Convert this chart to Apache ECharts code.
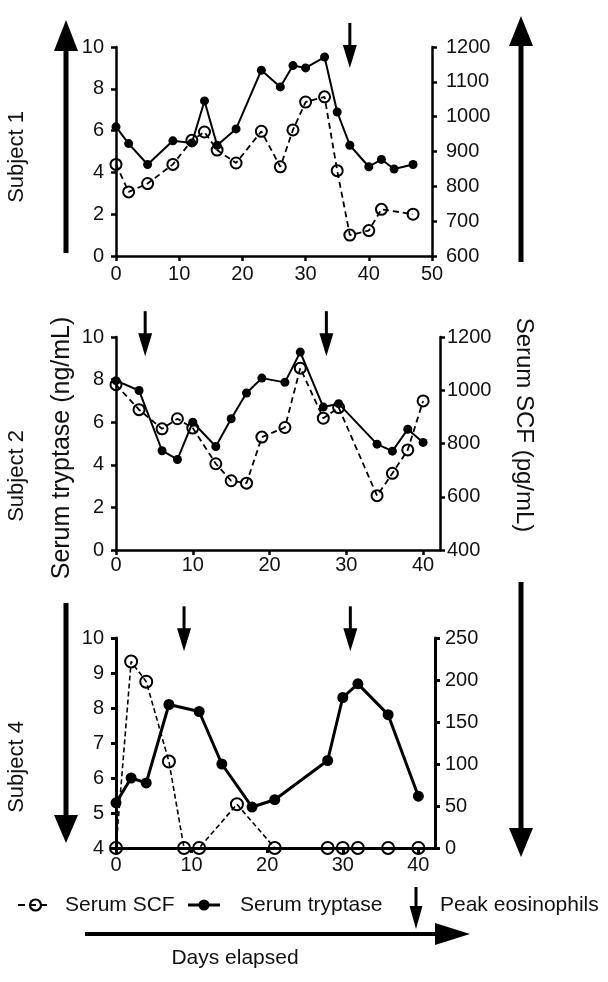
<!DOCTYPE html>
<html>
<head>
<meta charset="utf-8">
<script src="https://cdn.jsdelivr.net/npm/echarts@6/dist/echarts.min.js"></script>
<style>
html,body{margin:0;padding:0;background:#fff;}
#chart{width:608px;height:982px;}
</style>
</head>
<body>
<div id="chart"></div>
<script>
// ---------- Data ----------
// Subject 1
const s1TryptaseDays = [0,2,5,9,12,14,16,19,23,26,28,30,33,35,37,40,42,44,47];
const s1Tryptase     = [6.18,5.38,4.38,5.51,5.41,7.42,5.30,6.08,8.89,8.09,9.11,9.00,9.52,6.89,5.30,4.27,4.62,4.16,4.38];
const s1ScfDays      = [0,2,5,9,12,14,16,19,23,26,28,30,33,35,37,40,42,47];
const s1Scf          = [863,784,808,863,932,956,904,867,958,856,962,1042,1057,845,660,673,734,720];
const s1PeakDays     = [37];
const s1PeakTip      = [9.0];
// Subject 2
const s2Days         = [0,3,6,8,10,13,15,17,19,22,24,27,29,34,36,38,40];
const s2Tryptase     = [7.95,7.49,4.66,4.25,6.00,4.86,6.16,7.37,8.07,7.87,9.29,6.71,6.87,4.97,4.64,5.67,5.05];
const s2Scf          = [1021,927,855,893,858,724,660,651,824,860,1083,895,935,604,688,776,960];
const s2PeakDays     = [3.8,27.4];
const s2PeakTip      = [9.1,9.1];
// Subject 4
const s4TryptaseDays = [0,2,4,7,11,14,18,21,28,30,32,36,40];
const s4Tryptase     = [5.29,6.00,5.86,8.10,7.90,6.40,5.17,5.38,6.50,8.30,8.69,7.81,5.48];
const s4ScfDays      = [0,2,4,7,9,11,16,21,28,30,32,36,40];
const s4Scf          = [0,222,198,103,0,0,52,0,0,0,0,0,0];
const s4PeakDays     = [9,31];
const s4PeakTip      = [9.62,9.62];
// Tick labels
const xTicks1 = [0,10,20,30,40,50];
const xTicks23 = [0,10,20,30,40];

// ---------- Helpers ----------
const FONT = '"Liberation Sans", Arial, Helvetica, sans-serif';
const zip = (a,b) => a.map((v,i) => [v,b[i]]);
const plain = v => String(v);

function xAx(gi, max, ticks, lw, margin){
  return {
    type:'value', gridIndex:gi, min:0, max:max, interval:10,
    axisLine:{show:true,onZero:false,lineStyle:{color:'#000',width:lw}},
    axisTick:{show:true,length:5,customValues:ticks,lineStyle:{color:'#000',width:lw}},
    axisLabel:{customValues:ticks,margin:margin,fontSize:20,fontFamily:FONT,color:'#111',formatter:plain},
    splitLine:{show:false}
  };
}
function yAx(gi, pos, min, max, interval, lw, margin){
  return {
    type:'value', gridIndex:gi, position:pos, min:min, max:max, interval:interval,
    axisLine:{show:true,onZero:false,lineStyle:{color:'#000',width:lw}},
    axisTick:{show:true,length:5,lineStyle:{color:'#000',width:lw}},
    axisLabel:{margin:margin,fontSize:20,fontFamily:FONT,color:'#111',formatter:plain},
    splitLine:{show:false}
  };
}
function tryptaseSeries(xi, yi, days, vals, lw, size){
  return {
    type:'line', xAxisIndex:xi, yAxisIndex:yi, data:zip(days,vals),
    symbol:'circle', symbolSize:size, showSymbol:true, clip:false, z:4,
    lineStyle:{color:'#000',width:lw},
    itemStyle:{color:'#000',borderWidth:0},
    animation:false, silent:true
  };
}
function scfSeries(xi, yi, days, vals, lw, size, dash){
  return {
    type:'line', xAxisIndex:xi, yAxisIndex:yi, data:zip(days,vals),
    symbol:'circle', symbolSize:size, showSymbol:true, clip:false, z:3,
    lineStyle:{color:'#000',width:lw,type:dash},
    itemStyle:{color:'rgba(255,255,255,0)',borderColor:'#000',borderWidth:2},
    animation:false, silent:true
  };
}
function peakSeries(xi, yi, days, tips){
  return {
    type:'custom', xAxisIndex:xi, yAxisIndex:yi, data:zip(days,tips),
    clip:false, z:5, silent:true, animation:false,
    encode:{x:0,y:1},
    renderItem:function(params, api){
      const p = api.coord([api.value(0), api.value(1)]);
      const L = 45, H = 23, W = 7;
      return {type:'group', children:[
        {type:'line', shape:{x1:p[0],y1:p[1]-L,x2:p[0],y2:p[1]-H+2}, style:{stroke:'#000',lineWidth:3}},
        {type:'polygon', shape:{points:[[p[0]-W,p[1]-H],[p[0]+W,p[1]-H],[p[0],p[1]]]}, style:{fill:'#000'}}
      ]};
    }
  };
}

// ---------- Decorations ----------
function vText(x,y,text,size,rot){
  return {type:'text', x:x, y:y, rotation:rot, silent:true,
    style:{text:text, font:size+'px '+FONT, fill:'#111', align:'center', verticalAlign:'middle'}};
}
function hText(x,y,text,size,align){
  return {type:'text', x:x, y:y, silent:true,
    style:{text:text, font:size+'px '+FONT, fill:'#111', align:align||'left', verticalAlign:'middle'}};
}
function line(x1,y1,x2,y2,w,dash){
  return {type:'line', silent:true, shape:{x1,y1,x2,y2}, style:{stroke:'#000',lineWidth:w,lineDash:dash||null}};
}
function poly(pts){
  return {type:'polygon', silent:true, shape:{points:pts}, style:{fill:'#000'}};
}
const graphics = [
  // side arrows
  line(66,48,66,253,5), poly([[54,51],[78,51],[66,20]]),
  line(66,603,66,818,5), poly([[54,815],[78,815],[66,843]]),
  line(521,43,521,262,5), poly([[509,46],[533,46],[521,16]]),
  line(521,582,521,830,5), poly([[509,828],[533,828],[521,857]]),
  // side labels
  vText(17,157,'Subject 1',22,Math.PI/2),
  vText(17,476,'Subject 2',22,Math.PI/2),
  vText(17,767,'Subject 4',22,Math.PI/2),
  vText(62,448,'Serum tryptase (ng/mL)',25,Math.PI/2),
  vText(524,425,'Serum SCF (pg/mL)',24,-Math.PI/2),
  // legend
  line(18,905,47,905,2,[7,4]),
  {type:'circle', silent:true, shape:{cx:35.5,cy:905,r:5.5}, style:{fill:'rgba(255,255,255,0)',stroke:'#000',lineWidth:2.2}},
  hText(65,905,'Serum SCF',21),
  line(188,905,220,905,3),
  {type:'circle', silent:true, shape:{cx:204,cy:905,r:5.5}, style:{fill:'#000'}},
  hText(240,905,'Serum tryptase',21),
  line(416,887,416,910,3), poly([[409.5,906],[422.5,906],[416,929]]),
  hText(440,905,'Peak eosinophils',21),
  // days elapsed arrow
  line(85,934,440,934,4), poly([[435,923],[470,934],[435,945]]),
  hText(235,958,'Days elapsed',21,'center')
];

const option = {
  backgroundColor:'#fff',
  animation:false,
  grid:[
    {left:116, top:47, width:316, height:209},
    {left:116, top:337, width:324, height:213},
    {left:116, top:638, width:319, height:210}
  ],
  xAxis:[
    xAx(0,50,xTicks1,2.5,8),
    xAx(1,42.2,xTicks23,2.5,5),
    xAx(2,42.2,xTicks23,3,7)
  ],
  yAxis:[
    yAx(0,'left',0,10,2,2.5,12),
    yAx(0,'right',600,1200,100,2.5,14),
    yAx(1,'left',0,10,2,2.5,12),
    yAx(1,'right',400,1200,200,2.5,7),
    yAx(2,'left',4,10,1,3,12),
    yAx(2,'right',0,250,50,3,10)
  ],
  series:[
    scfSeries(0,1,s1ScfDays,s1Scf,1.8,11,[6,4]),
    tryptaseSeries(0,0,s1TryptaseDays,s1Tryptase,2,9),
    peakSeries(0,0,s1PeakDays,s1PeakTip),
    scfSeries(1,3,s2Days,s2Scf,1.8,11,[6,4]),
    tryptaseSeries(1,2,s2Days,s2Tryptase,2,9),
    peakSeries(1,2,s2PeakDays,s2PeakTip),
    scfSeries(2,5,s4ScfDays,s4Scf,1.6,12,[5,3]),
    tryptaseSeries(2,4,s4TryptaseDays,s4Tryptase,3,11),
    peakSeries(2,4,s4PeakDays,s4PeakTip)
  ],
  graphic:graphics
};
const chart = echarts.init(document.getElementById('chart'), null, {renderer:'canvas'});
chart.setOption(option);
</script>
</body>
</html>
